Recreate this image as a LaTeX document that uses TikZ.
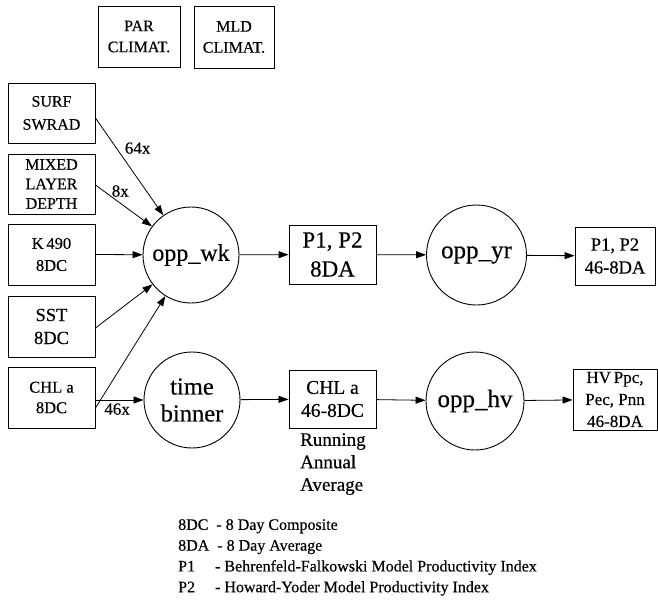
\documentclass[tikz,border=0pt]{standalone}
\usepackage{fontspec}
\setmainfont{Liberation Serif}[FakeBold=0.35]
\usetikzlibrary{arrows.meta}
\tikzset{
  box/.style={draw, line width=0.9pt, inner sep=0pt, align=center, anchor=center},
  proc/.style={draw, circle, line width=0.9pt, inner sep=0pt, align=center, font=\fontsize{24}{26}\selectfont},
  flow/.style={line width=0.8pt, -{Triangle[length=10pt,width=7pt]}},
  lbl/.style={font=\fontsize{17}{20}\selectfont, inner sep=0pt},
  fs/.style={font=\fontsize{16}{21}\selectfont},
}
\begin{document}
\begin{tikzpicture}[x=1pt,y=-1pt]
\useasboundingbox (0,0) rectangle (658,604);
% top climatology boxes
\node[box,fs,minimum width=82pt,minimum height=61pt] (par) at (139,36.5) {PAR\\CLIMAT.};
\node[box,fs,minimum width=80pt,minimum height=62pt] (mld) at (234,37) {MLD\\CLIMAT.};
% left inputs
\node[box,fs,font=\fontsize{16}{23}\selectfont,minimum width=87pt,minimum height=60pt] (surf) at (51.5,113) {SURF\\SWRAD};
\node[box,font=\fontsize{16}{19.5}\selectfont,minimum width=87pt,minimum height=60pt] (mixed) at (51.5,184) {MIXED\\LAYER\\DEPTH};
\node[box,font=\fontsize{16.5}{22}\selectfont,minimum width=87pt,minimum height=61pt] (k490) at (51.5,254.5) {K\,490\\8DC};
\node[box,font=\fontsize{18.5}{23}\selectfont,minimum width=87pt,minimum height=61pt] (sst) at (51.5,326.5) {SST\\8DC};
\node[box,font=\fontsize{16.5}{20.5}\selectfont,minimum width=87pt,minimum height=61pt] (chl) at (51.5,397.5) {CHL a\\8DC};
% processes
\node[proc,minimum size=96pt] (wk) at (191,255) {opp\_wk};
\node[proc,minimum size=96pt,font=\fontsize{24.5}{27}\selectfont] (tb) at (192,400) {time\\binner};
\node[proc,minimum size=100pt,font=\fontsize{25}{27}\selectfont] (yr) at (476.5,255) {opp\_yr};
\node[proc,minimum size=98pt,font=\fontsize{25}{27}\selectfont] (hvc) at (475,401) {opp\_hv};
% products
\node[box,font=\fontsize{23}{29}\selectfont,minimum width=87pt,minimum height=59pt] (p8da) at (332.5,254.5) {P1, P2\\8DA};
\node[box,font=\fontsize{18.5}{23}\selectfont,minimum width=80pt,minimum height=58pt] (p46) at (615,256) {P1, P2\\46-8DA};
\node[box,font=\fontsize{19.5}{23}\selectfont,minimum width=87pt,minimum height=58pt] (chl46) at (332.5,399) {CHL a\\46-8DC};
\node[box,font=\fontsize{17}{22}\selectfont,minimum width=84pt,minimum height=61pt] (hv) at (615,399.5) {HV\,Ppc,\\Pec, Pnn\\46-8DA};
% annotations
\node[anchor=north west, align=left, inner sep=0pt, font=\fontsize{19}{22.5}\selectfont] (raa) at (300,433) {Running\\Annual\\Average};
\node[anchor=north west, align=left, inner sep=0pt, font=\fontsize{16}{20.8}\selectfont] (legend) at (178,519)
 {8DC \ - 8 Day Composite\\8DA \ - 8 Day Average\\P1 \quad - Behrenfeld-Falkowski Model Productivity Index\\P2 \quad - Howard-Yoder Model Productivity Index};
% connectors
\draw[flow] ([yshift=-5pt]surf.east) -- (wk) node[lbl, pos=0.31, right=8pt] (l64) {64x};
\draw[flow] ([yshift=-1pt]mixed.east) -- (wk) node[lbl, pos=0.44, above=6pt] (l8) {8x};
\draw[flow] (k490.east) -- (wk);
\draw[flow] ([yshift=-1.5pt]sst.east) -- (wk);
\draw[flow] ([yshift=-10.5pt]chl.east) -- (wk);
\draw[flow] ([yshift=-2.5pt]chl.east) -- (tb) node[lbl, pos=0.45, below=3pt] (l46) {46x};
\draw[flow] (wk) -- (p8da);
\draw[flow] (p8da) -- (yr);
\draw[flow] (yr) -- (p46);
\draw[flow] (tb) -- (chl46);
\draw[flow] (chl46) -- (hvc);
\draw[flow] (hvc) -- (hv);
\end{tikzpicture}
\end{document}
